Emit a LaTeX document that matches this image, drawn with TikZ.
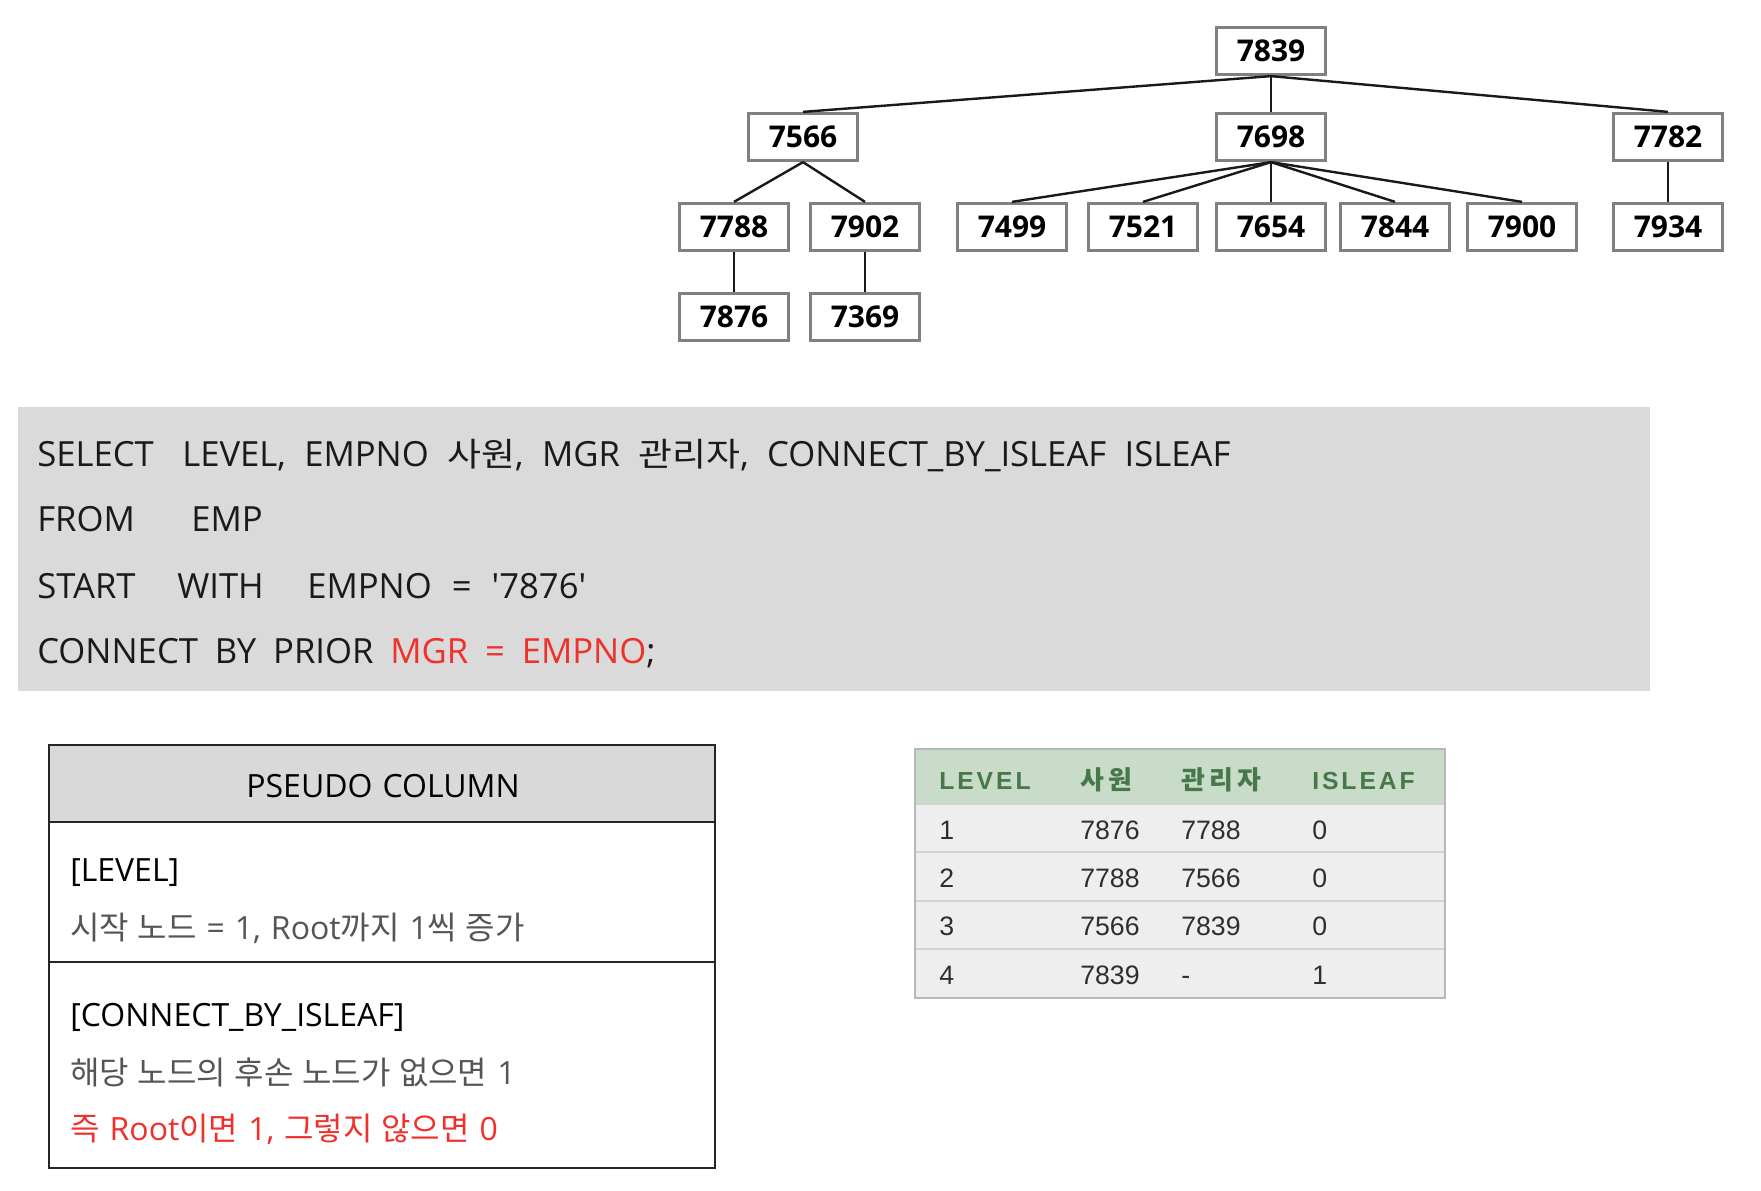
\documentclass[tikz,border=0pt]{standalone}
\usepackage{fontspec}
\setmainfont{Open Sans}
\newfontfamily\krs{Noto Sans CJK KR}[Scale=0.95,FakeStretch=1.12]
\newfontfamily\kr{Noto Sans CJK KR}[WordSpace=1.2]
\newfontfamily\pf{Open Sans}[WordSpace=1.2]
\newfontfamily\arialf{Liberation Sans}
\newfontfamily\hdrf{Liberation Sans}[LetterSpace=12]
\newfontfamily\hdrkr{Noto Sans CJK KR}[LetterSpace=16,Scale=1.05]
\definecolor{treegray}{HTML}{808080}
\definecolor{txt}{HTML}{1A1A1A}
\definecolor{sqlgray}{HTML}{DADADA}
\definecolor{hired}{HTML}{F0302A}
\definecolor{subgray}{HTML}{555555}
\definecolor{hdrgray}{HTML}{D9D9D9}
\definecolor{pborder}{HTML}{262626}
\definecolor{hdrgreen}{HTML}{C9DBC9}
\definecolor{hdrtext}{HTML}{46784A}
\definecolor{rowgray}{HTML}{EEEEEE}
\definecolor{tborder}{HTML}{B8B8B8}
\definecolor{septone}{HTML}{D2D2D2}
\definecolor{celltxt}{HTML}{2E2E2E}
\tikzset{
  tbox/.style={draw=treegray, line width=2.2pt, fill=white, minimum width=81.5pt, minimum height=35.5pt, inner sep=0pt, text=black, font=\fontsize{22.5}{26}\selectfont\bfseries},
  edge/.style={line width=1.8pt, draw=black!90},
  sql/.style={anchor=base west, inner sep=0pt, text=txt, font=\fontsize{26}{30}\selectfont},
  ptxt/.style={anchor=base west, inner sep=0pt, text=black, font=\pf\fontsize{24}{28}\selectfont},
  hcell/.style={anchor=base west, inner sep=0pt, text=hdrtext, font=\fontsize{18.5}{22}\selectfont\bfseries},
  cell/.style={anchor=base west, inner sep=0pt, text=celltxt, font=\arialf\fontsize{20}{24}\selectfont},
}
\begin{document}
\begin{tikzpicture}[x=0.75pt,y=-0.75pt]
\useasboundingbox (0,0) rectangle (1761,1190);

% ---------- tree ----------
\node[tbox] (n7839) at (1271,51) {7839};
\node[tbox] (n7566) at (803,137) {7566};
\node[tbox] (n7698) at (1271,137) {7698};
\node[tbox] (n7782) at (1668,137) {7782};
\node[tbox] (n7788) at (734,227) {7788};
\node[tbox] (n7902) at (865,227) {7902};
\node[tbox] (n7499) at (1012,227) {7499};
\node[tbox] (n7521) at (1143,227) {7521};
\node[tbox] (n7654) at (1271,227) {7654};
\node[tbox] (n7844) at (1395,227) {7844};
\node[tbox] (n7900) at (1522,227) {7900};
\node[tbox] (n7934) at (1668,227) {7934};
\node[tbox] (n7876) at (734,317) {7876};
\node[tbox] (n7369) at (865,317) {7369};

\foreach \p/\c in {n7839/n7566, n7839/n7698, n7839/n7782,
                   n7566/n7788, n7566/n7902,
                   n7698/n7499, n7698/n7521, n7698/n7654, n7698/n7844, n7698/n7900,
                   n7782/n7934, n7788/n7876, n7902/n7369}
  \draw[edge] (\p.south) -- (\c.north);

% ---------- SQL block ----------
\fill[sqlgray] (18,407) rectangle (1650,691);
\node[sql] (s1a) at (37,466) {SELECT};
\node[sql] (s1b) at (182,466) {\spaceskip=13.8pt\relax LEVEL, EMPNO {\krs 사원}, MGR {\krs 관리자}, CONNECT\_BY\_ISLEAF ISLEAF};
\node[sql] (s2a) at (37,531) {FROM};
\node[sql] (s2b) at (191,531) {EMP};
\node[sql] (s3a) at (37,598) {START};
\node[sql] (s3b) at (177,598) {WITH};
\node[sql] (s3c) at (307,598) {\spaceskip=15pt\relax EMPNO = \textquotesingle7876\textquotesingle};
\node[sql] (s4) at (37,663) {\spaceskip=12.6pt\relax CONNECT BY PRIOR \textcolor{hired}{MGR = EMPNO};};

% ---------- pseudo column box ----------
\fill[hdrgray] (49,745) rectangle (715,822);
\draw[pborder, line width=2pt] (49,745) rectangle (715,1168);
\draw[pborder, line width=2pt] (49,822) -- (715,822);
\draw[pborder, line width=2pt] (49,962) -- (715,962);
\node[ptxt, anchor=base] (ph) at (383,797) {PSEUDO COLUMN};
\node[ptxt] (p1) at (70,881) {[LEVEL]};
\node[ptxt, text=subgray] (p2) at (70,939) {{\kr 시작 노드} = 1, Root{\kr 까지} 1{\kr 씩 증가}};
\node[ptxt] (p3) at (70,1026) {[CONNECT\_BY\_ISLEAF]};
\node[ptxt, text=subgray] (p4) at (70,1084) {{\kr 해당 노드의 후손 노드가 없으면} 1};
\node[ptxt, text=hired] (p5) at (70,1140) {{\kr 즉} Root{\kr 이면} 1, {\kr 그렇지 않으면} 0};

% ---------- result table ----------
\fill[rowgray] (915,749) rectangle (1445,998);
\fill[hdrgreen] (915,749) rectangle (1445,804);
\foreach \yy in {804,852,901,949}
  \draw[septone, line width=1.2pt] (915,\yy) -- (1445,\yy);
\draw[tborder, line width=2pt] (915,749) rectangle (1445,998);

\node[hcell] (h1) at (939,789) {\hdrf LEVEL};
\node[hcell] (h2) at (1080,789) {\hdrkr 사원};
\node[hcell] (h3) at (1181,789) {\hdrkr 관리자};
\node[hcell] (h4) at (1312,789) {\hdrf ISLEAF};

\node[cell] (r1a) at (939,839) {1};
\node[cell] (r1b) at (1080,839) {7876};
\node[cell] (r1c) at (1181,839) {7788};
\node[cell] (r1d) at (1312,839) {0};
\node[cell] (r2a) at (939,887) {2};
\node[cell] (r2b) at (1080,887) {7788};
\node[cell] (r2c) at (1181,887) {7566};
\node[cell] (r2d) at (1312,887) {0};
\node[cell] (r3a) at (939,935) {3};
\node[cell] (r3b) at (1080,935) {7566};
\node[cell] (r3c) at (1181,935) {7839};
\node[cell] (r3d) at (1312,935) {0};
\node[cell] (r4a) at (939,984) {4};
\node[cell] (r4b) at (1080,984) {7839};
\node[cell] (r4c) at (1181,984) {-};
\node[cell] (r4d) at (1312,984) {1};
\end{tikzpicture}
\end{document}
